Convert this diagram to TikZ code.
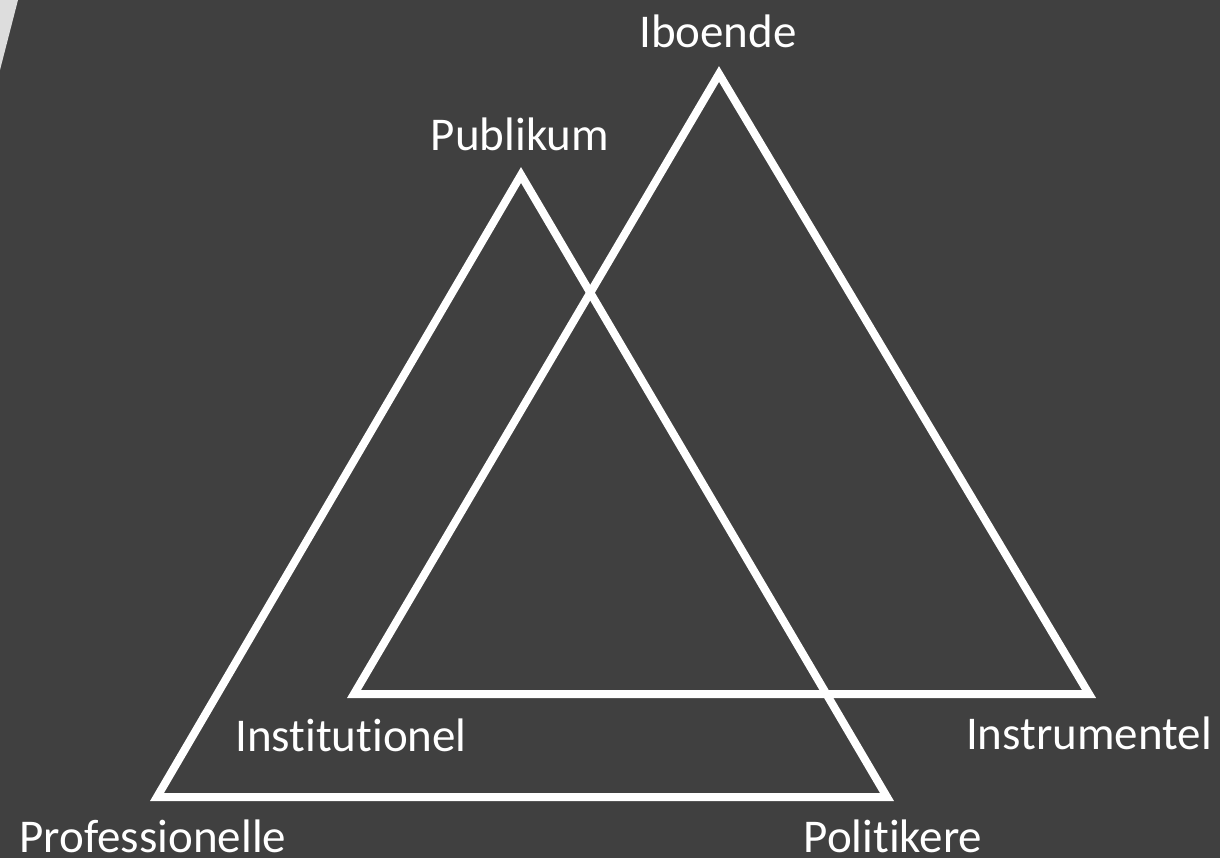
\documentclass[tikz,border=0pt]{standalone}
\usepackage{fontspec}
\setmainfont{Carlito}[Ligatures=NoCommon]
\usetikzlibrary{calc}
\definecolor{slidebg}{RGB}{64,64,64}
\definecolor{slidecorner}{RGB}{221,221,221}
\definecolor{edgewhite}{RGB}{255,255,255}
\tikzset{
    triangle/.style={draw=edgewhite,line width=4pt,line join=miter},
    corner/.style={text=edgewhite,font=\fontsize{23.5}{28}\selectfont,anchor=base,inner sep=0pt}
}

\begin{document}
\begin{tikzpicture}[x=0.5pt,y=-0.5pt]

% Slide background
\fill[slidebg] (0,0) rectangle (1220,858);
\useasboundingbox (0,0) rectangle (1220,858);
\fill[slidecorner] (0,0) -- (18,0) -- (0,70) -- cycle;

% Corners of the two triangles
\coordinate (pub) at (521,175);
\coordinate (pro) at (157,797);
\coordinate (pol) at (887,797);
\coordinate (ibo) at (719,74);
\coordinate (ins) at (354,694);
\coordinate (inm) at (1089,694);

% Publikum triangle
\draw[triangle] (pub) -- (pro) -- (pol) -- cycle;

% Iboende triangle
\draw[triangle] (ibo) -- (ins) -- (inm) -- cycle;

% Labels
\node[corner] (lIbo) at (718,47) {Iboende};
\node[corner] (lPub) at (520,150) {Publikum};
\node[corner] (lIns) at (351,751) {Institutionel};
\node[corner] (lInm) at (1089,749) {Instrumentel};
\node[corner] (lPro) at (153,852) {Professionelle};
\node[corner] (lPol) at (893,852) {Politikere};

\end{tikzpicture}
\end{document}
